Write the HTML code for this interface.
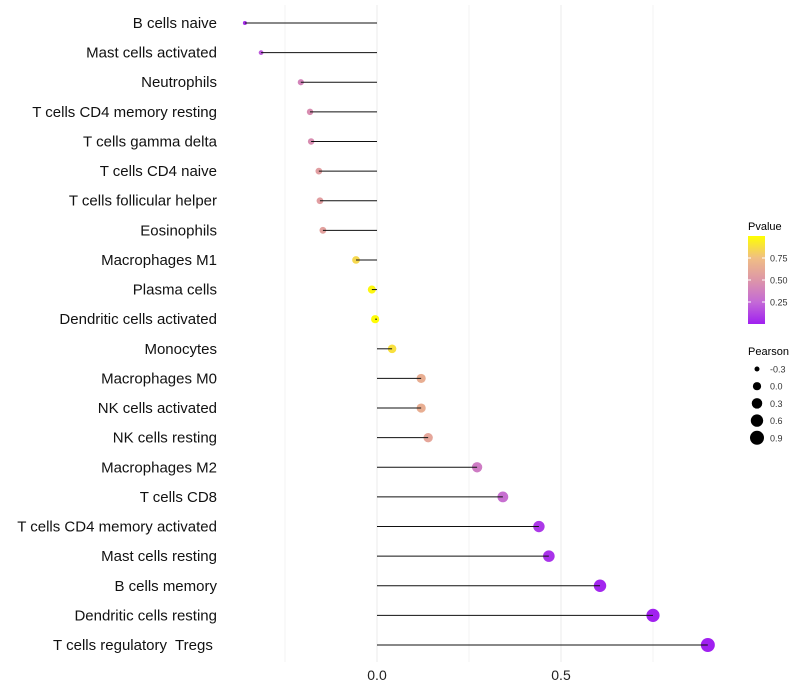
<!DOCTYPE html>
<html><head><meta charset="utf-8"><style>
body{margin:0;background:#fff;}
svg{display:block;font-family:"Liberation Sans",sans-serif;}
</style></head><body>
<svg id="chart" width="800" height="700">
<defs><linearGradient id="pgrad" x1="0" y1="1" x2="0" y2="0">
<stop offset="0" stop-color="#A020F0"/><stop offset="0.25" stop-color="#C46AD6"/>
<stop offset="0.5" stop-color="#DD96A8"/><stop offset="0.75" stop-color="#F0BE84"/>
<stop offset="1" stop-color="#FFFF00"/></linearGradient></defs>
<g id="grid"></g>
<g id="marks"></g>
<g id="labels"></g>
<g id="xticks"></g>
<g>
<text x="748" y="230" font-size="11">Pvalue</text>
<rect x="748" y="236" width="17" height="88" fill="url(#pgrad)"/>
<g id="cticks"></g>
</g>
<g>
<text x="748" y="355" font-size="11">Pearson</text>
<g id="sleg"></g>
</g>
</svg>
<script>
const categories=["B cells naive","Mast cells activated","Neutrophils","T cells CD4 memory resting","T cells gamma delta","T cells CD4 naive","T cells follicular helper","Eosinophils","Macrophages M1","Plasma cells","Dendritic cells activated","Monocytes","Macrophages M0","NK cells activated","NK cells resting","Macrophages M2","T cells CD8","T cells CD4 memory activated","Mast cells resting","B cells memory","Dendritic cells resting","T cells regulatory  Tregs "];
const pearson=[-0.359,-0.315,-0.207,-0.182,-0.179,-0.158,-0.155,-0.147,-0.057,-0.014,-0.005,0.041,0.12,0.12,0.139,0.272,0.342,0.44,0.467,0.606,0.75,0.899];
const pvalue=[0.05,0.2,0.4,0.45,0.45,0.55,0.55,0.57,0.85,0.97,0.99,0.88,0.65,0.65,0.6,0.35,0.28,0.08,0.06,0.02,0.005,0.0005];
const xTicks=[0,0.5];
const xGrid=[-0.25,0,0.25,0.5,0.75];
const cTicks=[0.25,0.5,0.75];
const sizeLegend=[-0.3,0,0.3,0.6,0.9];
const NS="http://www.w3.org/2000/svg";
const xs=v=>377+v*368;
const ys=i=>23+i*(645-23)/21;
const rs=v=>Math.sqrt(Math.max(1,16.9+35.7*v));
const cy=p=>324-p*88;
const stops=[[0,[160,32,240]],[0.25,[196,106,214]],[0.5,[221,150,168]],[0.75,[240,190,132]],[1,[255,255,0]]];
function col(p){for(let k=1;k<stops.length;k++){if(p<=stops[k][0]){const a=stops[k-1],b=stops[k],t=(p-a[0])/(b[0]-a[0]);return "rgb("+a[1].map((c,j)=>Math.round(c+(b[1][j]-c)*t)).join(",")+")";}}return "rgb(255,255,0)";}
function mk(tag,at,parent){const e=document.createElementNS(NS,tag);for(const k in at)e.setAttribute(k,at[k]);document.getElementById(parent).appendChild(e);return e;}
xGrid.forEach(v=>{const l=mk("line",{x1:xs(v),x2:xs(v),y1:5,y2:662,stroke:"#ebebeb","stroke-width":v%0.5===0?1:0.6},"grid");

});
categories.forEach((c,i)=>{
const pt=mk("circle",{cx:xs(pearson[i]),cy:ys(i),r:rs(pearson[i]),fill:col(pvalue[i])},"marks");


const sg=mk("line",{x1:xs(0),x2:xs(pearson[i]),y1:ys(i),y2:ys(i),stroke:"#111","stroke-width":1},"marks");


const t=mk("text",{x:217,y:ys(i)+5,"text-anchor":"end","font-size":15,fill:"#111",style:"white-space:pre"},"labels");
t.textContent=c;

});
xTicks.forEach(v=>{const t=mk("text",{x:xs(v),y:680,"text-anchor":"middle","font-size":14,fill:"#222"},"xticks");
t.textContent=v.toFixed(1);

});
cTicks.forEach(p=>{const t=mk("text",{x:770,y:cy(p)+3.5,"font-size":9,fill:"#333"},"cticks");
t.textContent=p.toFixed(2);


mk("line",{x1:748,x2:751,y1:cy(p),y2:cy(p),stroke:"#fff"},"cticks");mk("line",{x1:762,x2:765,y1:cy(p),y2:cy(p),stroke:"#fff"},"cticks");});
sizeLegend.forEach((v,k)=>{const y=369+k*17.2;
const c=mk("circle",{cx:757,cy:y,r:rs(v),fill:"#000"},"sleg");


const t=mk("text",{x:770,y:y+3.5,"font-size":9,fill:"#333"},"sleg");
t.textContent=v.toFixed(1);

});
</script>
</body></html>
